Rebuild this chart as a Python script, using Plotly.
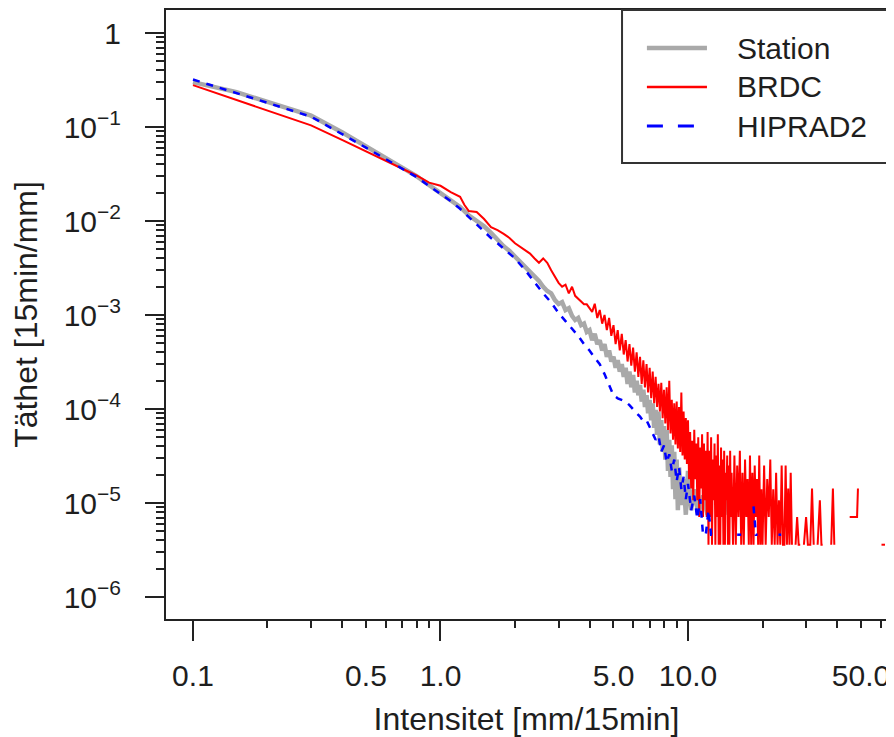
import plotly.graph_objects as go

# ---------------- data ----------------
L1, L2, L3, L4, L5 = 3.6e-6, 7.1e-6, 1.07e-5, 1.43e-5, 1.79e-5

brdc_x = [0.1, 0.15, 0.2, 0.3, 0.4, 0.5, 0.6, 0.7, 0.8, 0.9, 1.0, 1.1, 1.2, 1.25, 1.3, 1.4, 1.5, 1.6, 1.7, 1.8, 1.9,
          2.0, 2.1, 2.2, 2.3, 2.4, 2.5, 2.6, 2.7, 2.8, 2.9, 3.0, 3.1, 3.2, 3.3, 3.4, 3.5, 3.6, 3.7, 3.8, 3.9, 4.0,
          4.1, 4.2, 4.3, 4.4, 4.5, 4.6, 4.7, 4.8, 4.9, 5.0, 5.1, 5.2, 5.3, 5.4, 5.5, 5.6, 5.7, 5.8, 5.9, 6.0,
          6.1, 6.2, 6.3, 6.4, 6.5, 6.6, 6.7, 6.8, 6.9, 7.0, 7.1, 7.2, 7.3, 7.4, 7.5, 7.6, 7.7, 7.8, 7.9, 8.0,
          8.1, 8.2, 8.3, 8.4, 8.5, 8.6, 8.7, 8.8, 8.9, 9.0, 9.1, 9.2, 9.3, 9.4, 9.5, 9.6, 9.7, 9.8, 9.9, 10.0,
          10.1, 10.2, 10.3, 10.4, 10.5, 10.6, 10.7, 10.8, 10.9, 11.0, 11.1, 11.2, 11.3, 11.4, 11.5, 11.6, 11.7,
          11.8, 11.9, 12.0, 12.1, 12.2, 12.3, 12.4, 12.5, 12.6, 12.7, 12.8, 12.9, 13.0, 13.1, 13.2, 13.3, 13.4,
          13.5, 13.6, 13.7, 13.8, 13.9, 14.0, 14.1, 14.2, 14.3, 14.4, 14.5, 14.6, 14.7, 14.8, 14.9, 15.0,
          15.2, 15.4, 15.6, 15.8, 16.0, 16.2, 16.4, 16.6, 16.8, 17.0, 17.2, 17.4, 17.6, 17.8, 18.0, 18.2, 18.4,
          18.6, 18.8, 19.0, 19.2, 19.4, 19.6, 19.8, 20.0, 20.3, 20.6, 20.9, 21.2, 21.5, 21.8, 22.1, 22.4, 22.7,
          23.0, 23.3, 23.6, 23.9, 24.2, 24.5, 24.8, 25.1, 25.4, 25.7, 26.0, 26.3, 26.6, 27.2, 27.6, 28.0, 28.4,
          28.7, 29.4, 30.0, 30.5, 31.2, 31.7, 32.2, 32.8, 33.4, 34.1, 34.6, 35.0, 35.5, 37.9, 38.5, 39.0, 39.4,
          45.0, 48.2, 48.6, 48.9, 60.5, 62.5]
brdc_y = [0.279, 0.194, 0.150, 0.104, 0.0730, 0.0550, 0.0440, 0.0364, 0.0305, 0.0256, 0.0237, 0.0203, 0.0181,
          0.0148, 0.0128, 0.0125, 0.0105, 0.0086, 0.0080, 0.0073, 0.0066,
          0.0058, 0.0053, 0.0048, 0.0045, 0.0040, 0.0036, 0.0040, 0.0036, 0.0030, 0.0026, 0.0022, 0.0020, 0.0021,
          0.0017, 0.0020, 0.0016, 0.0015, 0.0014, 0.0013, 0.0013, 0.0012,
          1.08e-3, 1.32e-3, 9.3e-4, 1.13e-3, 8.1e-4, 1.0e-3, 6.9e-4, 9.3e-4, 6.0e-4, 7.8e-4, 4.9e-4, 6.9e-4,
          4.2e-4, 6.3e-4, 3.8e-4, 5.4e-4, 3.2e-4, 4.9e-4, 2.9e-4, 4.5e-4,
          2.5e-4, 4.0e-4, 2.2e-4, 3.6e-4, 1.85e-4, 3.3e-4, 1.7e-4, 3.0e-4, 1.5e-4, 2.75e-4, 1.3e-4, 2.5e-4,
          1.15e-4, 2.2e-4, 1.05e-4, 1.85e-4, 9.4e-5, 1.9e-4, 8.0e-5, 1.6e-4,
          7.0e-5, 1.7e-4, 6.0e-5, 2.0e-4, 5.5e-5, 1.25e-4, 4.7e-5, 1.15e-4, 4.2e-5, 1.2e-4, 3.8e-5, 1.05e-4,
          3.5e-5, 1.5e-4, 3.2e-5, 9.4e-5, 2.9e-5, 8.0e-5, 2.6e-5, 7.6e-5,
          L5, 5.7e-5, L4, 4.6e-5, L3, 6.0e-5, L5, 4.3e-5, L3, 5.0e-5, L2, 3.9e-5, L4, 5.4e-5, L2, 4.3e-5, L3,
          3.6e-5, L2, 5.7e-5, L1, 3.6e-5, L2, 5.0e-5, L1, 2.9e-5, L3, 4.3e-5, L1, 3.2e-5, L2, 5.4e-5, L1, 2.5e-5,
          L1, 3.9e-5, L2, 2.9e-5, L1, 3.6e-5, L1, 2.1e-5, L3, 3.2e-5, L1, 2.5e-5, L1, 3.6e-5, L2, 2.1e-5,
          L1, 3.2e-5, L1, 2.5e-5, L2, 3.6e-5, L1, 2.1e-5, L1, 2.9e-5, L2, 1.8e-5, L1, 3.2e-5, L1, 2.1e-5, L1,
          2.5e-5, L2, 1.8e-5, L1, 3.2e-5, L1, 1.4e-5, L1, 2.5e-5, L1, 1.8e-5, L2, 2.9e-5, L1, 1.4e-5, L1, 2.1e-5,
          L1, 1.07e-5, L1, 2.5e-5, L1, L1, 2.5e-5, L1, 1.43e-5, L1, 2.1e-5, L1, None, L1, L2, L1, L1,
          None, L1, L2, L1, L1, 1.43e-5, L1, None, L1, 1.07e-5, L1, L1, None, L1, 1.43e-5, L1, None,
          L2, L2, 1.43e-5, None, L1, L1]

station_x = [0.1, 0.15, 0.2, 0.3, 0.4, 0.5, 0.6, 0.7, 0.8, 0.9, 1.0, 1.1, 1.2, 1.3, 1.4, 1.5, 1.6, 1.7, 1.8, 1.9,
             2.0, 2.1, 2.2, 2.3, 2.4, 2.5, 2.6, 2.7, 2.8, 2.9, 3.0, 3.1, 3.2, 3.3, 3.4, 3.5, 3.6, 3.7, 3.8, 3.9,
             4.0, 4.1, 4.2, 4.3, 4.4, 4.5, 4.6, 4.7, 4.8, 4.9, 5.0, 5.1, 5.2, 5.3, 5.4, 5.5, 5.6, 5.7, 5.8, 5.9,
             6.0, 6.1, 6.2, 6.3, 6.4, 6.5, 6.6, 6.7, 6.8, 6.9, 7.0, 7.1, 7.2, 7.3, 7.4, 7.5, 7.6, 7.7, 7.8, 7.9,
             8.0, 8.1, 8.2, 8.3, 8.4, 8.5, 8.6, 8.7, 8.8, 8.9, 9.0, 9.1, 9.2, 9.4, 9.6, 9.8, 10.0, 10.3, 10.6,
             11.0, 11.5, 12.0, 12.5, 13.8, 14.2, 14.6, 15.0, 18.8, 19.2]
station_y = [0.300, 0.235, 0.185, 0.132, 0.088, 0.063, 0.047, 0.037, 0.030, 0.024, 0.0203, 0.0167, 0.0141,
             0.0115, 0.0100, 0.0088, 0.0075, 0.0063, 0.0054, 0.0048,
             0.0042, 0.0037, 0.0032, 0.0029, 0.0026, 0.0023, 0.0020, 0.0018, 0.0017, 0.00144, 0.00131, 0.00137,
             0.00113, 0.00118, 9.8e-4, 8.85e-4, 9.3e-4, 7.8e-4, 8.1e-4, 6.6e-4,
             6.9e-4, 5.4e-4, 6.3e-4, 4.9e-4, 5.4e-4, 4.2e-4, 4.9e-4, 3.6e-4, 4.2e-4, 3.2e-4, 3.6e-4, 2.75e-4,
             3.3e-4, 2.5e-4, 3.0e-4, 2.2e-4, 2.75e-4, 1.85e-4, 2.5e-4, 1.7e-4,
             2.3e-4, 1.5e-4, 2.0e-4, 1.4e-4, 1.8e-4, 1.2e-4, 1.6e-4, 1.05e-4, 1.4e-4, 9.0e-5, 1.25e-4, 7.6e-5,
             1.15e-4, 6.3e-5, 9.8e-5, 5.3e-5, 9.4e-5, 4.2e-5, 7.6e-5, 3.5e-5,
             6.6e-5, 2.9e-5, 6.0e-5, 2.2e-5, 4.7e-5, 1.9e-5, 4.1e-5, 1.4e-5, 3.5e-5, 1.1e-5, 2.9e-5, 8.4e-6,
             2.4e-5, 9.5e-6, 1.8e-5, 7.5e-6, 2.2e-5, 8.4e-6, 1.4e-5,
             7.5e-6, 1.2e-5, 7.5e-6, None, 7.5e-6, 1.8e-5, 7.5e-6, None, 1.4e-5, 1.4e-5]

hiprad_x = [0.1, 0.15, 0.2, 0.3, 0.4, 0.5, 0.6, 0.7, 0.8, 0.9, 1.0, 1.1, 1.2, 1.3, 1.4, 1.5, 1.6, 1.7, 1.8, 1.9,
            2.0, 2.2, 2.4, 2.6, 2.8, 3.0, 3.2, 3.4, 3.6, 3.8, 4.0, 4.2, 4.4, 4.6, 4.8, 5.0, 5.2, 5.4, 5.6, 5.8,
            6.0, 6.2, 6.4, 6.6, 6.8, 7.0, 7.2, 7.4, 7.6, 7.8, 8.0, 8.2, 8.4, 8.6, 8.8, 9.0, 9.2, 9.4, 9.6, 9.8,
            10.0, 10.3, 10.6, 10.9, 11.2, 11.5, 11.8, 12.1, 12.4, 12.7, 13.0, 15.8, 16.4, 16.8, 18.4, 18.8,
            19.1, 19.5, 23.2, 23.8]
hiprad_y = [0.320, 0.231, 0.181, 0.129, 0.085, 0.0603, 0.0457, 0.0363, 0.0294, 0.0236, 0.0194, 0.0163, 0.0135,
            0.0110, 0.0093, 0.0078, 0.0066, 0.0058, 0.0051, 0.0045,
            0.0040, 0.0030, 0.0022, 0.0017, 0.00136, 0.00105, 8.6e-4, 7.1e-4, 6.0e-4, 4.9e-4, 4.2e-4, 3.5e-4,
            3.0e-4, 2.35e-4, 1.8e-4, 1.4e-4, 1.3e-4, 1.25e-4, 1.2e-4, 1.1e-4,
            9.8e-5, 9.0e-5, 8.3e-5, 7.4e-5, 7.6e-5, 6.3e-5, 5.5e-5, 4.7e-5, 5.2e-5, 3.5e-5, 4.1e-5, 2.7e-5,
            3.3e-5, 2.2e-5, 2.9e-5, 1.7e-5, 2.4e-5, 1.4e-5, 1.9e-5, 1.1e-5,
            1.6e-5, 8.4e-6, 1.2e-5, 6.8e-6, 1.1e-5, 4.6e-6, 4.6e-6, 8.4e-6, 4.6e-6, 4.6e-6, None, 4.6e-6,
            4.6e-6, None, 9.2e-6, 4.6e-6, 4.6e-6, None, 4.6e-6, 4.6e-6]

series_names = ["Station", "BRDC", "HIPRAD2"]

x_tickvals = [0.1, 0.5, 1, 5, 10, 50]
x_ticktext = ["0.1", "0.5", "1.0", "5.0", "10.0", "50.0"]
x_major_vals = [0.1, 1, 10]
x_minor_vals = [0.2, 0.3, 0.4, 0.6, 0.7, 0.8, 0.9, 2, 3, 4, 6, 7, 8, 9, 20, 30, 40, 60]
y_tickvals = [1, 1e-1, 1e-2, 1e-3, 1e-4, 1e-5, 1e-6]
y_ticktext = ["1", "10<sup>\u22121</sup>", "10<sup>\u22122</sup>", "10<sup>\u22123</sup>",
              "10<sup>\u22124</sup>", "10<sup>\u22125</sup>", "10<sup>\u22126</sup>"]
y_minor_vals = [m * 10 ** e for e in range(-6, 0) for m in range(2, 10)]

# ---------------- style ----------------
FONT = "Liberation Sans, Arial, Helvetica, sans-serif"
INK = "#1e1e1e"
AX = "#222222"
styles = {
    "Station": dict(color="#A9A9A9", width=4.5, dash="solid"),
    "BRDC": dict(color="#FF0000", width=2, dash="solid"),
    "HIPRAD2": dict(color="#0000FF", width=2.5, dash="7px,7px"),
}

fig = go.Figure()
for name, xs, ys in [("Station", station_x, station_y), ("BRDC", brdc_x, brdc_y),
                     ("HIPRAD2", hiprad_x, hiprad_y)]:
    fig.add_trace(go.Scatter(x=xs, y=ys, mode="lines", name=name, line=styles[name],
                             connectgaps=False, showlegend=False))
# carrier for the long-tick overlay axis
fig.add_trace(go.Scatter(x=[], y=[], xaxis="x2", showlegend=False, hoverinfo="skip"))

# ---- legend box (drawn in plot-paper coordinates) ----
shapes = [dict(type="rect", xref="paper", yref="paper", x0=0.6325, x1=1.0, y0=0.7488, y1=1.0,
               line=dict(color="#333333", width=2), fillcolor="white", layer="above")]
annotations = []
leg_y = [0.9376, 0.8736, 0.8095]
leg_dash = {"Station": "solid", "BRDC": "solid", "HIPRAD2": "16px,15px"}
for name, yy in zip(series_names, leg_y):
    st = styles[name]
    shapes.append(dict(type="line", xref="paper", yref="paper", x0=0.667, x1=0.7503, y0=yy, y1=yy,
                       line=dict(color=st["color"], width=st["width"] + (0.5 if name != "Station" else 0),
                                 dash=leg_dash[name]), layer="above"))
    annotations.append(dict(xref="paper", yref="paper", x=0.7892, y=yy, xanchor="left", yanchor="middle",
                            text=name, showarrow=False,
                            font=dict(family=FONT, size=30, color=INK)))

xrange = [-1.109, 1.804]
yrange = [-6.234, 0.245]

fig.update_layout(
    width=886, height=729,
    margin=dict(l=158, r=7, t=2, b=118, autoexpand=False),
    paper_bgcolor="white", plot_bgcolor="white",
    font=dict(family=FONT, size=30, color=INK),
    showlegend=False,
    shapes=shapes, annotations=annotations,
    xaxis=dict(type="log", range=xrange, autorange=False,
               showline=True, linecolor=AX, linewidth=2, mirror=True,
               showgrid=False, zeroline=False,
               tickmode="array", tickvals=x_tickvals, ticktext=x_ticktext,
               ticks="outside", ticklen=7, tickwidth=2, tickcolor=AX,
               ticklabelstandoff=22,
               tickfont=dict(family=FONT, size=30, color=INK),
               minor=dict(tickmode="array", tickvals=x_minor_vals, ticks="outside",
                          ticklen=7, tickwidth=2, tickcolor=AX, showgrid=False),
               title=dict(text="Intensitet [mm/15min]", standoff=17,
                          font=dict(family=FONT, size=32, color=INK)),
               automargin=False),
    xaxis2=dict(type="log", range=xrange, autorange=False, overlaying="x", anchor="y",
                side="bottom", showline=False, showgrid=False, zeroline=False,
                tickmode="array", tickvals=x_major_vals, showticklabels=False,
                ticks="outside", ticklen=21, tickwidth=2, tickcolor=AX),
    yaxis=dict(type="log", range=yrange, autorange=False,
               showline=True, linecolor=AX, linewidth=2, mirror=True,
               showgrid=False, zeroline=False,
               tickmode="array", tickvals=y_tickvals, ticktext=y_ticktext,
               ticks="outside", ticklen=19, tickwidth=2, tickcolor=AX,
               ticklabelstandoff=18,
               tickfont=dict(family=FONT, size=30, color=INK),
               minor=dict(tickmode="array", tickvals=y_minor_vals, ticks="outside",
                          ticklen=8, tickwidth=2, tickcolor=AX, showgrid=False),
               title=dict(text="Täthet [15min/mm]", standoff=24,
                          font=dict(family=FONT, size=32, color=INK)),
               automargin=False),
)

fig.write_html("out.html")
